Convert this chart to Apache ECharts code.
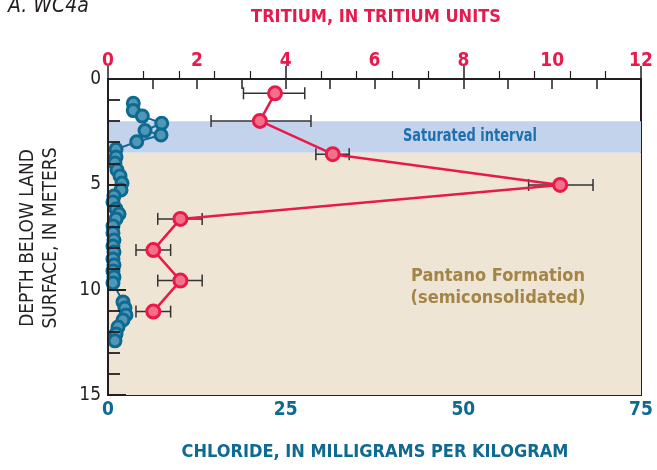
<!DOCTYPE html>
<html>
<head>
<meta charset="utf-8">
<script src="https://cdn.jsdelivr.net/npm/echarts@6/dist/echarts.min.js"></script>
<style>
  html, body { margin: 0; padding: 0; background: #fff; }
  #main { width: 657px; height: 470px; }
</style>
</head>
<body>
<div id="main"></div>
<script>
// tritium profile (depth m, TU, error low, error high)
var tritDepth = [0.68, 1.99, 3.57, 5.03, 6.64, 8.12, 9.57, 11.04];
var tritValue = [3.76, 3.42, 5.06, 10.18, 1.63, 1.02, 1.63, 1.02];
var tritLow   = [3.05, 2.32, 4.68, 9.47, 1.12, 0.63, 1.12, 0.63];
var tritHigh  = [4.43, 4.57, 5.43, 10.92, 2.12, 1.41, 2.12, 1.41];

// chloride profile (depth m, mg/kg)
var clDepth = [1.15, 1.50, 1.76, 2.10, 2.45, 2.66, 2.98, 3.34, 3.70, 3.99, 4.32, 4.60,
  4.94, 5.27, 5.55, 5.84, 6.17, 6.41, 6.64, 6.98, 7.31, 7.64, 7.93, 8.21, 8.54,
  8.83, 9.11, 9.40, 9.68, 10.58, 10.87, 11.20, 11.44, 11.77, 12.10, 12.43];
var clValue = [3.56, 3.56, 4.83, 7.56, 5.21, 7.46, 4.04, 1.13, 1.13, 0.98, 1.27, 1.69,
  1.97, 1.83, 0.84, 0.70, 1.13, 1.55, 1.13, 0.70, 0.70, 0.84, 0.70, 0.84, 0.70,
  0.84, 0.70, 0.84, 0.70, 2.11, 2.39, 2.53, 2.11, 1.41, 1.13, 0.98];

var saturatedTop = 2, saturatedBottom = 3.5, depthMax = 15;
var tritTicks = [0, 2, 4, 6, 8, 10, 12];
var clTicks = [0, 25, 50, 75];
var depthTicks = [0, 5, 10, 15];

var RED = '#e8194b';
var BLUE = '#0e6a90';
var FONT = "'Liberation Sans Narrow', 'DejaVu Sans Condensed', 'Roboto', sans-serif";

var chart = echarts.init(document.getElementById('main'));

var tritData = tritDepth.map(function (d, i) { return [tritValue[i], d]; });
var clData = clDepth.map(function (d, i) { return [clValue[i], d]; });
var errData = tritDepth.map(function (d, i) { return [tritLow[i], tritHigh[i], d]; });

chart.setOption({
  animation: false,
  textStyle: { fontFamily: FONT },
  grid: {
    left: 108, right: 16, top: 79, bottom: 75,
    show: true, backgroundColor: '#fff', borderColor: '#231f20', borderWidth: 2
  },
  xAxis: [{
    type: 'value', position: 'bottom', min: 0, max: 75, interval: 25, zlevel: 1,
    axisLine: { lineStyle: { color: '#231f20', width: 2 } },
    axisTick: { inside: true, length: 13, lineStyle: { color: '#231f20', width: 1.5 } },
    minorTick: { show: true, splitNumber: 5, length: 8, lineStyle: { color: '#231f20', width: 1.2 } },
    splitLine: { show: false },
    axisLabel: {
      color: BLUE, fontWeight: 'bold', fontSize: 19, margin: 6, fontFamily: FONT,
      formatter: function (v) { return clTicks.indexOf(v) >= 0 ? String(v) : ''; }
    }
  }, {
    type: 'value', position: 'top', min: 0, max: 12, interval: 1, zlevel: 1,
    axisLine: { lineStyle: { color: '#231f20', width: 2 } },
    axisTick: { inside: true, length: 10, lineStyle: { color: '#231f20', width: 1.5 } },
    splitLine: { show: false },
    axisLabel: {
      color: RED, fontWeight: 'bold', fontSize: 19, margin: 8, fontFamily: FONT,
      formatter: function (v) { return tritTicks.indexOf(v) >= 0 ? String(v) : ''; }
    }
  }],
  yAxis: {
    type: 'value', inverse: true, min: 0, max: depthMax, interval: 5, zlevel: 1,
    axisLine: { lineStyle: { color: '#231f20', width: 2 } },
    axisTick: { inside: true, length: 18, lineStyle: { color: '#231f20', width: 2 } },
    minorTick: { show: true, splitNumber: 5, length: 12, lineStyle: { color: '#231f20', width: 1.8 } },
    splitLine: { show: false },
    axisLabel: {
      color: '#231f20', fontSize: 19, margin: 7, fontFamily: FONT,
      formatter: function (v) { return depthTicks.indexOf(v) >= 0 ? String(v) : ''; }
    }
  },
  graphic: [
    { type: 'text', left: 8, top: -4, style: { text: 'A. WC4a', fill: '#231f20', fontSize: 21, fontFamily: FONT, fontStyle: 'italic' } },
    { type: 'text', x: 376, y: 17, style: { text: 'TRITIUM, IN TRITIUM UNITS', fill: RED, fontSize: 18, fontWeight: 'bold', fontFamily: FONT, align: 'center', verticalAlign: 'middle' } },
    { type: 'text', x: 375, y: 452, style: { text: 'CHLORIDE, IN MILLIGRAMS PER KILOGRAM', fill: BLUE, fontSize: 18, fontWeight: 'bold', fontFamily: FONT, align: 'center', verticalAlign: 'middle' } },
    { type: 'text', x: 40, y: 238, rotation: Math.PI / 2, style: { text: 'DEPTH BELOW LAND\nSURFACE, IN METERS', fill: '#231f20', fontSize: 19, lineHeight: 23, fontFamily: FONT, align: 'center', verticalAlign: 'middle' } },
    { type: 'text', x: 470, y: 136, z: 100, scaleX: 0.8, style: { text: 'Saturated interval', fill: '#1e6fae', fontSize: 18, fontWeight: 'bold', fontFamily: FONT, align: 'center', verticalAlign: 'middle' } },
    { type: 'text', x: 498, y: 287, z: 100, style: { text: 'Pantano Formation\n(semiconsolidated)', fill: '#a38547', fontSize: 18, lineHeight: 22, fontWeight: 'bold', fontFamily: FONT, align: 'center', verticalAlign: 'middle' } }
  ],
  series: [{
    name: 'chloride',
    type: 'line',
    xAxisIndex: 0,
    data: clData,
    symbol: 'circle',
    symbolSize: 12,
    lineStyle: { color: BLUE, width: 2 },
    itemStyle: { color: '#4f97b7', borderColor: BLUE, borderWidth: 3 },
    z: 3,
    markArea: {
      silent: true,
      z: 1,
      data: [
        [{ xAxis: 0, yAxis: saturatedTop, itemStyle: { color: '#c4d3ec' } }, { xAxis: 75, yAxis: saturatedBottom }],
        [{ xAxis: 0, yAxis: saturatedBottom, itemStyle: { color: '#efe5d5' } }, { xAxis: 75, yAxis: depthMax }]
      ]
    }
  }, {
    name: 'error',
    type: 'custom',
    xAxisIndex: 1,
    data: errData,
    z: 4,
    renderItem: function (params, api) {
      var a = api.coord([api.value(0), api.value(2)]);
      var b = api.coord([api.value(1), api.value(2)]);
      var h = 6;
      var st = { stroke: '#333', lineWidth: 1.5 };
      return {
        type: 'group',
        children: [
          { type: 'line', shape: { x1: a[0], y1: a[1], x2: b[0], y2: b[1] }, style: st },
          { type: 'line', shape: { x1: a[0], y1: a[1] - h, x2: a[0], y2: a[1] + h }, style: st },
          { type: 'line', shape: { x1: b[0], y1: b[1] - h, x2: b[0], y2: b[1] + h }, style: st }
        ]
      };
    }
  }, {
    name: 'tritium',
    type: 'line',
    xAxisIndex: 1,
    data: tritData,
    symbol: 'circle',
    symbolSize: 13,
    lineStyle: { color: RED, width: 2.5 },
    itemStyle: { color: '#f2708a', borderColor: RED, borderWidth: 3 },
    z: 5
  }]
});
</script>
</body>
</html>
